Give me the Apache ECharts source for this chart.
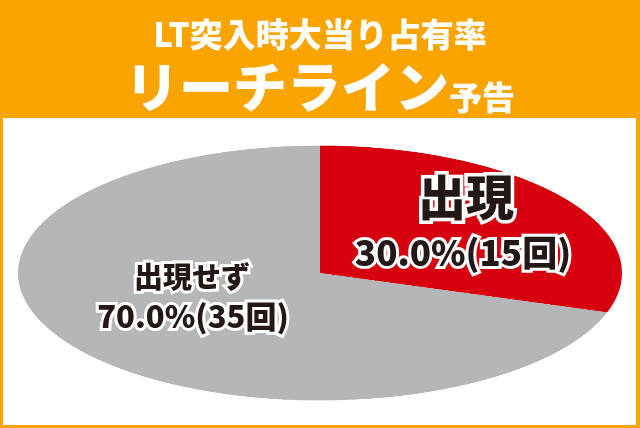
<!DOCTYPE html>
<html>
<head>
<meta charset="utf-8">
<script src="https://cdn.jsdelivr.net/npm/echarts@6/dist/echarts.min.js"></script>
<style>
  html, body { margin: 0; padding: 0; background: #fff; }
  #wrap { position: relative; width: 640px; height: 428px; overflow: hidden; }
  /* 円グラフを縦につぶして楕円にする */
  #pie { position: absolute; left: 0; top: -47.5px; width: 640px; height: 640px;
         transform: scaleY(0.422); transform-origin: 50% 50%; }
  #main { position: absolute; left: 0; top: 0; width: 640px; height: 428px; }
</style>
</head>
<body>
<div id="wrap">
  <div id="pie"></div>
  <div id="main"></div>
</div>
<script>
  // データ
  var categories = ['出現', '出現せず'];
  var counts = [15, 35];
  var colors = ['#d7000f', '#b5b6b8'];
  var titleLine1 = 'LT突入時大当り占有率';
  var titleLine2 = 'リーチライン';
  var titleSuffix = '予告';

  var total = counts.reduce(function (a, b) { return a + b; }, 0);
  function pctText(i) {
    return (counts[i] / total * 100).toFixed(1) + '%(' + counts[i] + '回)';
  }

  // 円グラフ
  var pieChart = echarts.init(document.getElementById('pie'));
  pieChart.setOption({
    animation: false,
    series: [
      {
        type: 'pie',
        center: ['50%', '50%'],
        radius: 302,
        startAngle: 90,
        clockwise: true,
        silent: true,
        label: { show: false },
        labelLine: { show: false },
        data: categories.map(function (c, i) {
          return { name: c, value: counts[i], itemStyle: { color: colors[i] } };
        })
      }
    ]
  });

  // 見出し・枠・ラベル
  var font = '"Noto Sans CJK JP", "Noto Sans", sans-serif';
  var ink = '#231815';
  var orange = '#f9a400';
  var mainChart = echarts.init(document.getElementById('main'));
  mainChart.setOption({
    animation: false,
    graphic: [
      { type: 'rect', shape: { x: 0, y: 0, width: 640, height: 118 }, style: { fill: orange } },
      { type: 'rect', shape: { x: 0, y: 0, width: 3, height: 428 }, style: { fill: orange } },
      { type: 'rect', shape: { x: 636, y: 0, width: 4, height: 428 }, style: { fill: orange } },
      { type: 'rect', shape: { x: 0, y: 425, width: 640, height: 3 }, style: { fill: orange } },
      {
        type: 'text', x: 320, y: 34,
        style: { text: titleLine1, fill: '#fff', font: '900 33px ' + font, align: 'center', verticalAlign: 'middle' }
      },
      {
        type: 'text', x: 320, y: 114,
        style: {
          text: '{a|' + titleLine2 + '}{b|' + titleSuffix + '}',
          align: 'center', verticalAlign: 'bottom',
          rich: {
            a: { fill: '#fff', fontFamily: font, fontWeight: 900, fontSize: 54, verticalAlign: 'bottom' },
            b: { fill: '#fff', fontFamily: font, fontWeight: 900, fontSize: 33, verticalAlign: 'bottom' }
          }
        }
      },
      {
        type: 'text', x: 466, y: 197,
        style: { text: categories[0], fill: ink, font: '900 48px ' + font, align: 'center', verticalAlign: 'middle',
                 stroke: '#fff', lineWidth: 7, strokeFirst: true }
      },
      {
        type: 'text', x: 463, y: 253,
        style: { text: pctText(0), fill: ink, font: '900 35px ' + font, align: 'center', verticalAlign: 'middle',
                 stroke: '#fff', lineWidth: 6, strokeFirst: true }
      },
      {
        type: 'text', x: 192, y: 277,
        style: { text: categories[1], fill: ink, font: '900 29px ' + font, align: 'center', verticalAlign: 'middle',
                 stroke: '#fff', lineWidth: 6, strokeFirst: true }
      },
      {
        type: 'text', x: 193, y: 316,
        style: { text: pctText(1), fill: ink, font: '900 31px ' + font, align: 'center', verticalAlign: 'middle',
                 stroke: '#fff', lineWidth: 6, strokeFirst: true }
      }
    ]
  });
</script>
</body>
</html>
